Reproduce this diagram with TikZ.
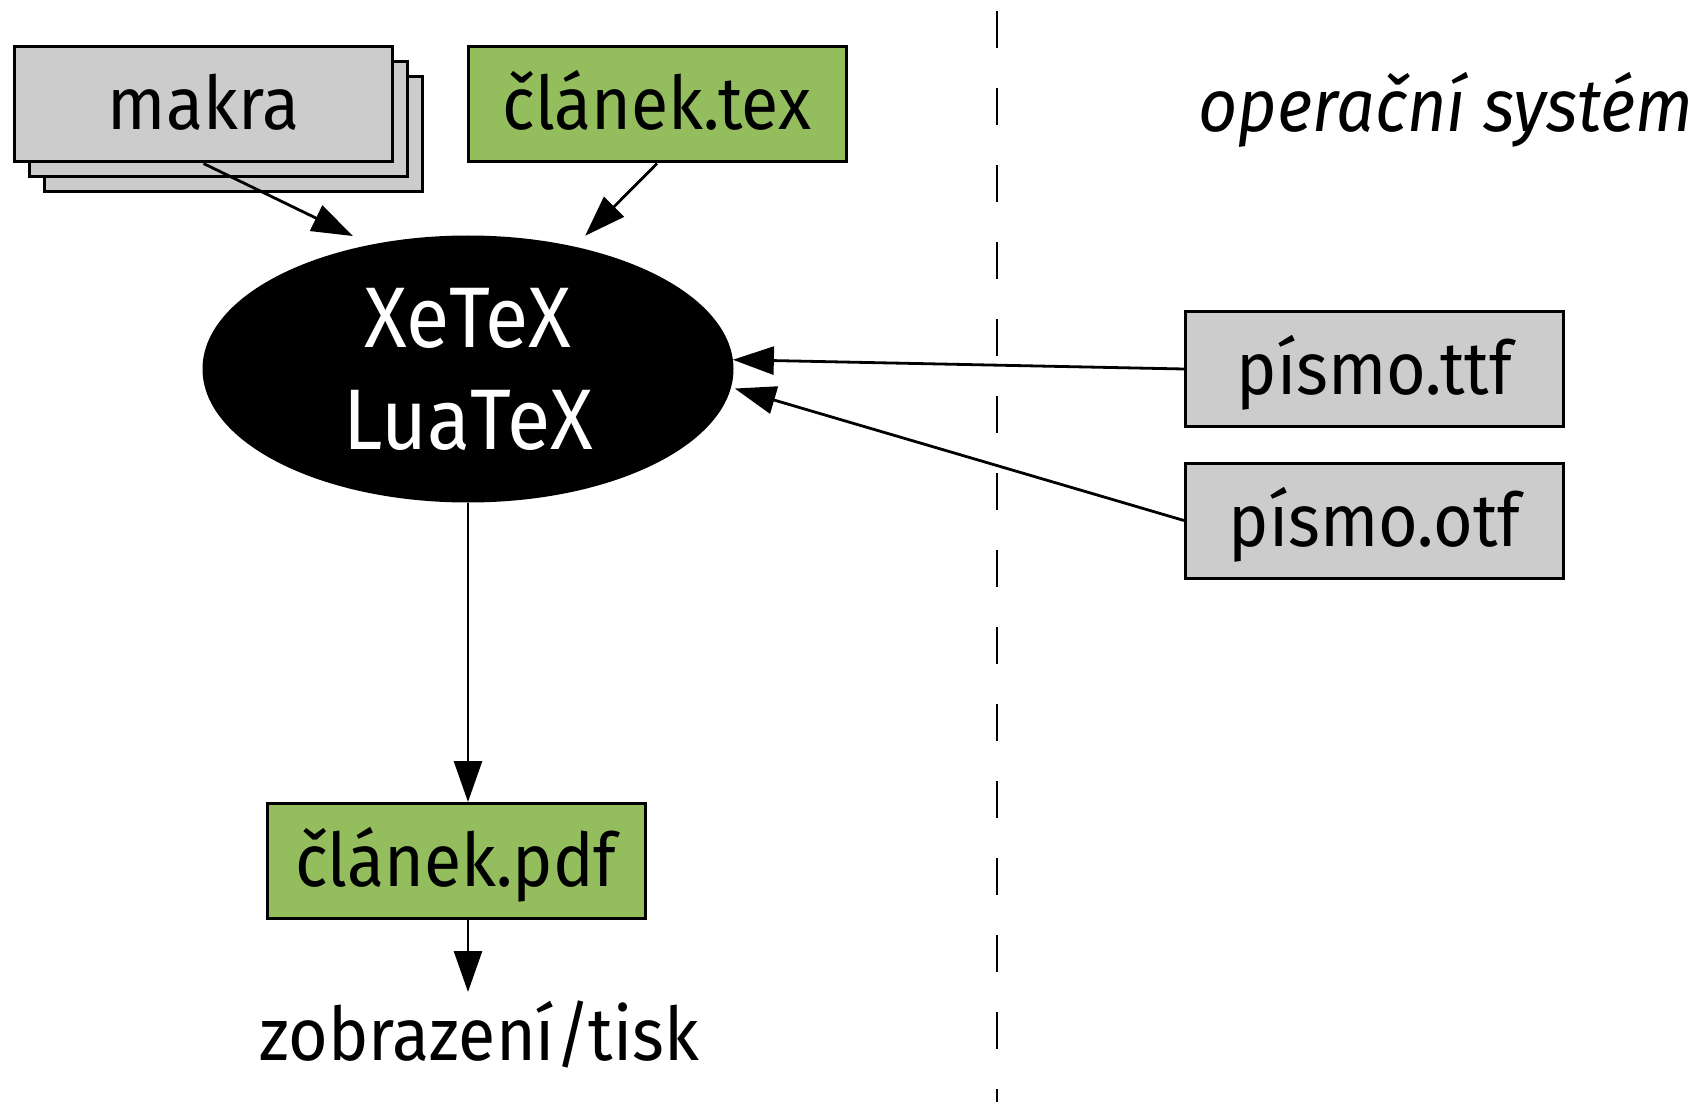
\documentclass[tikz,border=0pt]{standalone}
\usepackage{fontspec}
\setmainfont[FakeStretch=0.92]{Fira Sans}
\usetikzlibrary{arrows.meta,shapes.geometric}
\definecolor{boxgray}{HTML}{CCCCCC}
\definecolor{boxgreen}{HTML}{94BD5E}
\begin{document}
\begin{tikzpicture}[x=0.5pt,y=-0.5pt,
  boxfont/.style={font=\fontsize{37}{44}\selectfont},
  filebox/.style={draw, line width=1.5pt, minimum width=189pt, minimum height=57.5pt,
    inner sep=0pt, boxfont, text height=25.5pt, text depth=0pt},
  graybox/.style={filebox, fill=boxgray},
  greenbox/.style={filebox, fill=boxgreen},
  conn/.style={line width=1.4pt, -{Triangle[length=20.5pt,width=14pt]}},
  engine/.style={ellipse, draw, line width=1pt, fill=black, text=white, align=center,
    minimum width=264.5pt, minimum height=132.5pt, inner sep=0pt,
    font=\fontsize{43}{51}\selectfont}]
\useasboundingbox (0,0) rectangle (1705,1102);
% dashed separator
\draw[line width=1pt, dash pattern=on 18.5pt off 20pt] (997,11) -- (997,1102);
% nodes
\node[graybox] (makra3) at (233,134.5) {};
\node[graybox] (makra2) at (218.5,119.5) {};
\node[graybox] (makra) at (203.5,104.5) {makra};
\node[greenbox] (tex) at (657,104.5) {článek.tex};
\node[engine] (eng) at (468,369) {XeTeX\\LuaTeX};
\node[graybox] (ttf) at (1374.5,369) {písmo.ttf};
\node[graybox] (otf) at (1374.5,520.5) {písmo.otf};
\node[greenbox] (pdf) at (456,861) {článek.pdf};
\node[boxfont, anchor=base, inner sep=0pt] (disp) at (479,1060) {zobrazení/tisk};
\node[font={\fontsize{37}{44}\selectfont\itshape}, anchor=base, inner sep=0pt] (os) at (1446,132) {operační systém};
\coordinate (outend) at (468,992);
% connectors
\draw[conn, shorten >=10pt] (makra.south) -- (eng.128);
\draw[conn, shorten >=7.7pt] (tex.south) -- (eng.49.5);
\draw[conn] (ttf.west) -- (eng.2.8);
\draw[conn, shorten >=2pt] (otf.west) -- (eng.-4.2);
\draw[conn] (eng.south) -- (eng.south |- pdf.north);
\draw[conn] (pdf.south -| eng.south) -- (outend);
\end{tikzpicture}
\end{document}
